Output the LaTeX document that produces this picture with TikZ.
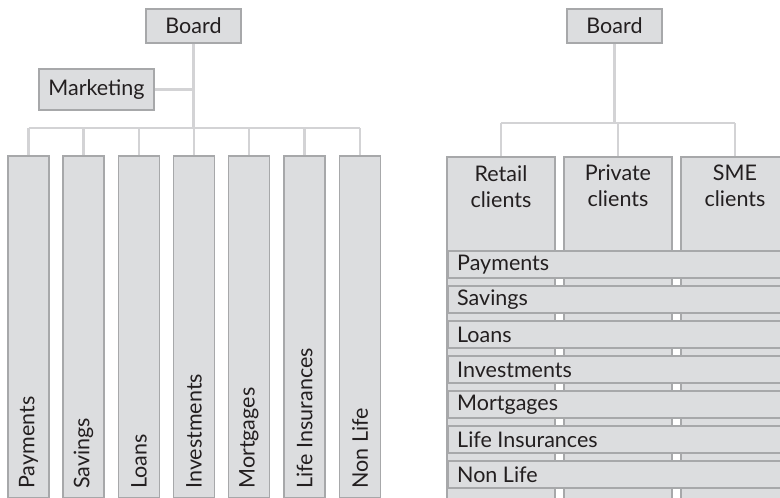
\documentclass[tikz,border=0pt]{standalone}
\usepackage{fontspec}
\setmainfont{Lato}
\begin{document}
\definecolor{boxfill}{HTML}{DCDDDF}
\definecolor{boxline}{HTML}{A7A8AA}
\definecolor{conn}{HTML}{D3D3D5}
\definecolor{txt}{HTML}{231F20}
\begin{tikzpicture}[x=1pt,y=-1pt,
  box/.style={draw=boxline, fill=boxfill, line width=1.8pt, rectangle, inner sep=0pt, text=txt, font=\fontsize{21.5}{26}\selectfont},
  lbl/.style={text=txt, font=\fontsize{21.5}{26}\selectfont, inner sep=0pt},
  con/.style={draw=conn, line width=2.6pt}]
\useasboundingbox (0,0) rectangle (780,498);
\clip (0,0) rectangle (780,498);
% ---------- left chart ----------
\node[box, minimum width=95pt, minimum height=34pt] (lb) at (193.5,26) {Board};
\node[box, minimum width=115pt, minimum height=41pt] (mk) at (96.5,89.5) {Marketing};
\coordinate (lbus) at (0,128);
\foreach \n/\x/\t in {p1/28.5/Payments, p2/83.5/Savings, p3/139/Loans, p4/194/Investments, p5/249/Mortgages, p6/304.5/Life Insurances, p7/360/Non Life}{
  \node[box, minimum width=41pt, minimum height=342pt, anchor=north] (\n) at (\x,155) {};
  \node[lbl, rotate=90, anchor=west] (\n t) at ([yshift=10pt]\n.south) {\t};
  \draw[con] (\n.north) -- (\n.north |- lbus);
}
\draw[con] (lb.south) -- (lb.south |- lbus);
\draw[con] (mk.east) -- (mk.east -| lb.south);
\draw[con] (p1.north |- lbus) -- (p7.north |- lbus);
% ---------- right chart ----------
\node[box, minimum width=95pt, minimum height=34pt] (rb) at (614.5,26) {Board};
\coordinate (rbus) at (0,123);
\foreach \n/\x/\t in {c1/501/Retail\\clients, c2/618/Private\\clients, c3/735/SME\\clients}{
  \node[box, minimum width=108pt, minimum height=360pt, anchor=north] (\n) at (\x,156) {};
  \node[lbl, align=center, anchor=north] (\n t) at ([yshift=-9pt]\n.north) {\t};
  \draw[con] (\n.north) -- (\n.north |- rbus);
}
\draw[con] (rb.south) -- (rb.south |- rbus);
\draw[con] (c1.north |- rbus) -- (c3.north |- rbus);
\foreach \n/\y/\t in {b1/250/Payments, b2/285/Savings, b3/320/Loans, b4/355/Investments, b5/390/Mortgages, b6/425/Life Insurances, b7/460/Non Life}{
  \node[box, minimum width=360pt, minimum height=27pt, anchor=north west] (\n) at (447,\y) {};
  \node[lbl, anchor=west] (\n t) at ([xshift=10pt]\n.west) {\t};
}
\end{tikzpicture}
\end{document}
